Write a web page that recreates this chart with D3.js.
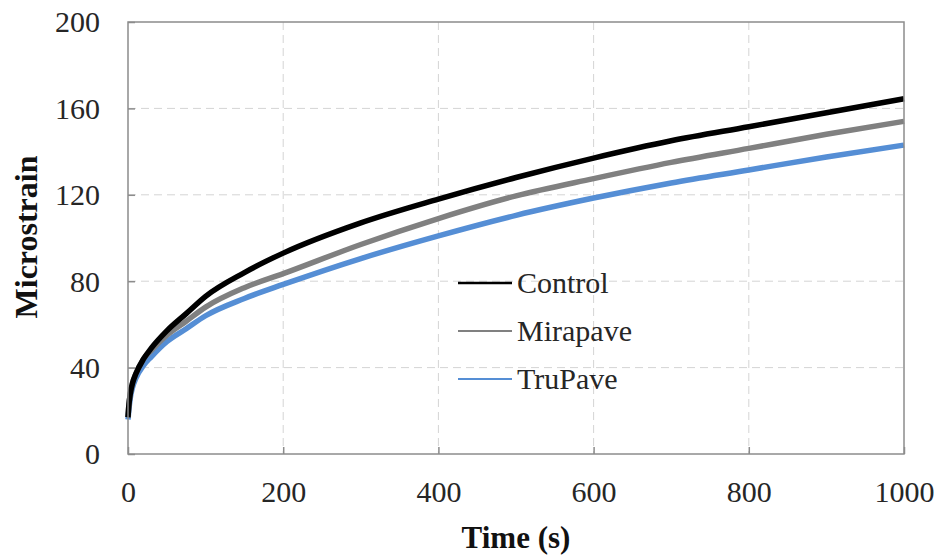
<!DOCTYPE html>
<html>
<head>
<meta charset="utf-8">
<script src="https://cdn.jsdelivr.net/npm/d3@7"></script>
<style>
  body { margin: 0; background: #fff; }
  svg text { font-family: "Liberation Serif", "Times New Roman", serif; fill: #262626; }
</style>
</head>
<body>
<div id="chart"></div>
<script>
// time (s) sample points
var time = [0, 1, 3, 6, 10, 20, 30, 50, 75, 100, 150, 200, 300, 400, 500, 600, 700, 800, 900, 1000];

var control  = [17, 22, 28, 33, 37, 44, 49, 57, 65, 73, 84, 93, 107, 118, 128, 137, 145, 151.5, 158, 164.5];
var mirapave = [17, 22, 28, 33, 37, 44, 48, 55, 61.5, 68, 77, 83.5, 97, 109, 119.5, 127.5, 135, 141.5, 148, 154];
var trupave  = [16, 20, 26, 31, 35, 41, 45, 52, 58, 64, 72, 78.5, 90.5, 101, 110.5, 118.5, 125.5, 131.5, 137.5, 143];

var xTicks = [0, 200, 400, 600, 800, 1000];
var yTicks = [0, 40, 80, 120, 160, 200];

var seriesNames = ["Control", "Mirapave", "TruPave"];
var seriesColors = ["#000000", "#808080", "#558ed5"];

var W = 940, H = 560;
var margin = {top: 22, right: 36, bottom: 106, left: 128};
var width = W - margin.left - margin.right;
var height = H - margin.top - margin.bottom;

var svg = d3.select("#chart").append("svg")
    .attr("width", W)
    .attr("height", H);

var g = svg.append("g")
    .attr("transform", "translate(" + margin.left + "," + margin.top + ")");

var x = d3.scaleLinear().domain([0, 1000]).range([0, width]);
var y = d3.scaleLinear().domain([0, 200]).range([height, 0]);

// grid
g.append("g")
    .selectAll("line")
    .data(yTicks.slice(1, -1))
    .enter().append("line")
    .attr("x1", 0).attr("x2", width)
    .attr("y1", function(d) { return y(d); })
    .attr("y2", function(d) { return y(d); })
    .attr("stroke", "#d4d4d4")
    .attr("stroke-width", 1)
    .attr("stroke-dasharray", "8,5");

g.append("g")
    .selectAll("line")
    .data(xTicks.slice(1, -1))
    .enter().append("line")
    .attr("y1", 0).attr("y2", height)
    .attr("x1", function(d) { return x(d); })
    .attr("x2", function(d) { return x(d); })
    .attr("stroke", "#d4d4d4")
    .attr("stroke-width", 1)
    .attr("stroke-dasharray", "8,5");

// lines
var data = [control, mirapave, trupave];
var line = d3.line()
    .x(function(d, i) { return x(time[i]); })
    .y(function(d) { return y(d); })
    .curve(d3.curveMonotoneX);

// draw bottom series first so Control sits on top
[2, 1, 0].forEach(function(k) {
    g.append("path")
        .datum(data[k])
        .attr("d", line)
        .attr("fill", "none")
        .attr("stroke", seriesColors[k])
        .attr("stroke-width", 5.5)
        .attr("stroke-linejoin", "round");
});

// frame
g.append("rect")
    .attr("x", 0).attr("y", 0)
    .attr("width", width).attr("height", height)
    .attr("fill", "none")
    .attr("stroke", "#8c8c8c")
    .attr("stroke-width", 1.5);

// axes (ticks pointing inward)
var xAxis = g.append("g")
    .attr("transform", "translate(0," + height + ")")
    .call(d3.axisTop(x).tickValues(xTicks).tickSize(7).tickFormat(d3.format("d")));
xAxis.select(".domain").remove();
xAxis.selectAll("line").attr("stroke", "#8c8c8c").attr("stroke-width", 1.5);
xAxis.selectAll("text")
    .attr("y", 48)
    .attr("dy", 0)
    .style("font-size", "30px")
    .style("font-family", "Liberation Serif");

var yAxis = g.append("g")
    .call(d3.axisRight(y).tickValues(yTicks).tickSize(7));
yAxis.select(".domain").remove();
yAxis.selectAll("line").attr("stroke", "#8c8c8c").attr("stroke-width", 1.5);
yAxis.selectAll("text")
    .attr("x", -28)
    .attr("dy", "0.33em")
    .attr("text-anchor", "end")
    .style("font-size", "30px")
    .style("font-family", "Liberation Serif");

// axis titles
svg.append("text")
    .attr("x", margin.left + width / 2)
    .attr("y", 548)
    .attr("text-anchor", "middle")
    .style("font-size", "31px")
    .style("font-weight", "bold")
    .style("fill", "#111")
    .text("Time (s)");

svg.append("text")
    .attr("transform", "translate(37," + 237 + ") rotate(-90)")
    .attr("text-anchor", "middle")
    .style("font-size", "32px")
    .style("font-weight", "bold")
    .style("fill", "#111")
    .text("Microstrain");

// legend
var legend = svg.append("g").attr("transform", "translate(458,283)");
seriesNames.forEach(function(name, i) {
    var row = legend.append("g").attr("transform", "translate(0," + (i * 48) + ")");
    row.append("line")
        .attr("x1", 0).attr("x2", 54)
        .attr("y1", 0).attr("y2", 0)
        .attr("stroke", seriesColors[i])
        .attr("stroke-width", i === 0 ? 2.5 : 2);
    row.append("text")
        .attr("x", 59)
        .attr("dy", "0.33em")
        .style("font-size", "30px")
        .text(name);
});
</script>
</body>
</html>
